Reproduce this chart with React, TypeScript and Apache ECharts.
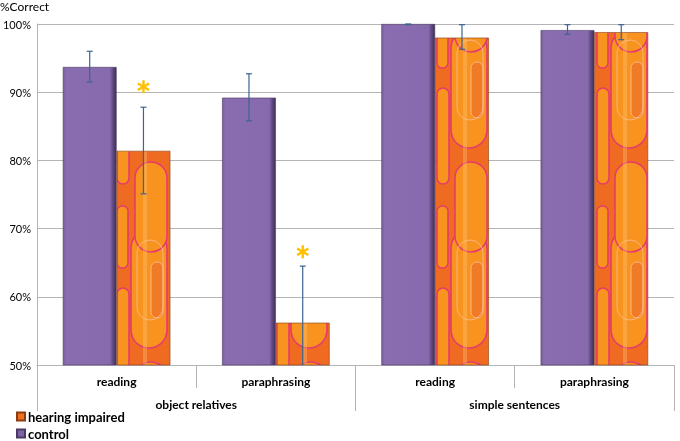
import React, { useEffect, useRef } from "react";
import * as echarts from "echarts";

const subCategories = ["reading", "paraphrasing", "reading", "paraphrasing"];
const groupCategories = ["object relatives", "simple sentences"];
const seriesNames = ["control", "hearing impaired"];
const controlValues = [93.7, 89.2, 100, 99.1];
const controlLow = [91.5, 85.8, 99.9, 98.5];
const controlHigh = [96.0, 92.7, 100, 99.9];
const impairedValues = [81.4, 56.2, 98.0, 98.8];
const impairedLow = [75.1, 47.9, 96.3, 97.7];
const impairedHigh = [87.8, 64.5, 99.9, 99.9];
const impairedAsterisk: (number | null)[] = [90.8, 66.6, null, null];
const yTicks = { min: 50, max: 100, interval: 10 };

const GAP = 0.325;

function roundRect(g: CanvasRenderingContext2D, x: number, y: number, w: number, h: number, r: number) {
  g.beginPath();
  g.moveTo(x + r, y);
  g.lineTo(x + w - r, y);
  g.arcTo(x + w, y, x + w, y + r, r);
  g.lineTo(x + w, y + h - r);
  g.arcTo(x + w, y + h, x + w - r, y + h, r);
  g.lineTo(x + r, y + h);
  g.arcTo(x, y + h, x, y + h - r, r);
  g.lineTo(x, y + r);
  g.arcTo(x, y, x + r, y, r);
  g.closePath();
}

// tile is 160 wide (one category band); bars start at offset 115 within it
function makePattern(): HTMLCanvasElement {
  const W = 160;
  const H = 200;
  const X0 = 115;
  const c = document.createElement("canvas");
  c.width = W;
  c.height = H;
  const g = c.getContext("2d") as CanvasRenderingContext2D;
  g.fillStyle = "#F06B22";
  g.fillRect(0, 0, W, H);
  const offs = [-1, 0, 1];
  const draw = (
    s: [number, number, number, number, number],
    fill: string,
    stroke: string,
    lw: number
  ) => {
    const [u, y, w, h, r] = s;
    offs.forEach((ox) =>
      offs.forEach((oy) => {
        roundRect(g, X0 + u + ox * W, y + oy * H, w, h, r);
        if (fill) {
          g.fillStyle = fill;
          g.fill();
        }
        g.strokeStyle = stroke;
        g.lineWidth = lw;
        g.stroke();
      })
    );
  };
  const light = "#F7931E";
  const pink = "#E63A6E";
  draw([2, 6, 11, 62, 5], light, pink, 1.5);
  draw([16, 30, 36, 118, 18], light, pink, 1.6);
  draw([2, 88, 12, 96, 6], light, pink, 1.5);
  draw([20, 162, 32, 90, 16], light, pink, 1.5);
  draw([36, 62, 12, 56, 6], "#F07A25", "#F9B58A", 1);
  draw([22, 40, 26, 80, 13], "", "rgba(250,190,150,0.8)", 1);
  g.fillStyle = "rgba(255,200,120,0.35)";
  g.fillRect(X0 + 28, 0, 4, H);
  g.fillRect(X0 + 28 - W, 0, 4, H);
  return c;
}

function errorSeries(low: number[], high: number[], ast: (number | null)[], side: number, name: string) {
  return {
    type: "custom",
    name,
    z: 5,
    silent: true,
    data: low.map((l, i) => [i, l, high[i], ast[i] == null ? -1 : ast[i]]),
    encode: { x: 0, y: [1, 2] },
    renderItem: (params: any, api: any) => {
      const i = api.value(0);
      const lo = api.value(1);
      const hi = api.value(2);
      const as = api.value(3);
      const band = api.size([1, 0])[0];
      const bw = (band * (1 - GAP)) / 2;
      const cx = api.coord([i, 75])[0] + (side * bw) / 2;
      const yLo = api.coord([i, Math.max(lo, yTicks.min)])[1];
      const yHi = api.coord([i, Math.min(hi, yTicks.max)])[1];
      const col = "#3C6490";
      const st = { stroke: col, lineWidth: 1.2 };
      const children: any[] = [
        { type: "line", shape: { x1: cx, y1: yLo, x2: cx, y2: yHi }, style: st },
      ];
      if (lo >= yTicks.min)
        children.push({ type: "line", shape: { x1: cx - 3, y1: yLo, x2: cx + 3, y2: yLo }, style: st });
      if (hi <= yTicks.max)
        children.push({ type: "line", shape: { x1: cx - 3, y1: yHi, x2: cx + 3, y2: yHi }, style: st });
      if (as > 0) {
        const ay = api.coord([i, as])[1];
        const ax = cx;
        const r = 6.5;
        [90, 30, 150].forEach((deg) => {
          const a = (deg * Math.PI) / 180;
          children.push({
            type: "line",
            shape: {
              x1: ax - r * Math.cos(a),
              y1: ay - r * Math.sin(a),
              x2: ax + r * Math.cos(a),
              y2: ay + r * Math.sin(a),
            },
            style: { stroke: "#FFC000", lineWidth: 2.4 },
          });
        });
      }
      return { type: "group", children };
    },
  };
}

export default function App() {
  const ref = useRef<HTMLDivElement>(null);
  useEffect(() => {
    if (!ref.current) return;
    const chart = echarts.init(ref.current, undefined, { renderer: "svg" });
    const pattern = makePattern();
    const font = "Lato, 'Open Sans', sans-serif";
    const legendBase = {
      orient: "vertical",
      left: 16,
      itemWidth: 8,
      itemHeight: 8,
      icon: "rect",
      padding: 0,
      textStyle: { fontFamily: font, fontSize: 13, fontWeight: "bold", color: "#000", padding: [0, 0, 0, -2] },
    };
    chart.setOption({
      animation: false,
      textStyle: { fontFamily: font },
      grid: { left: 35, right: 6, top: 24, bottom: 76, containLabel: false },
      graphic: [
        {
          type: "text",
          left: 0,
          top: 0,
          style: { text: "%Correct", font: `12px ${font}`, fill: "#000" },
        },
      ],
      legend: [
        {
          ...legendBase,
          top: 410,
          data: [{ name: seriesNames[1], itemStyle: { color: "#F07022" } }],
        },
        {
          ...legendBase,
          top: 427,
          data: [{ name: seriesNames[0], itemStyle: { color: "#7F63A8" } }],
        },
      ],
      xAxis: [
        {
          type: "category",
          data: subCategories,
          position: "bottom",
          axisLine: { show: true, lineStyle: { color: "#B4B4B4" } },
          axisTick: { show: true, interval: 0, length: 23, lineStyle: { color: "#B4B4B4" } },
          axisLabel: { interval: 0, margin: 10, fontSize: 12, fontWeight: "bold", color: "#000" },
        },
        {
          type: "category",
          data: groupCategories,
          position: "bottom",
          axisLine: { show: false },
          axisTick: { show: true, interval: 0, length: 46, lineStyle: { color: "#B4B4B4" } },
          axisLabel: { interval: 0, margin: 33, fontSize: 12, fontWeight: "bold", color: "#000" },
        },
      ],
      yAxis: {
        type: "value",
        min: yTicks.min,
        max: yTicks.max,
        interval: yTicks.interval,
        axisLine: { show: true, lineStyle: { color: "#B4B4B4" } },
        axisTick: { show: false },
        splitLine: { lineStyle: { color: "#B4B4B4" } },
        axisLabel: { formatter: "{value}%", fontSize: 11, color: "#000", margin: 6 },
      },
      series: [
        {
          type: "bar",
          name: seriesNames[0],
          data: controlValues,
          barGap: "0%",
          barCategoryGap: `${GAP * 100}%`,
          clip: true,
          itemStyle: {
            color: new echarts.graphic.LinearGradient(0, 0, 1, 0, [
              { offset: 0, color: "#7A5EA0" },
              { offset: 0.06, color: "#8A6DB0" },
              { offset: 0.88, color: "#866AAD" },
              { offset: 0.94, color: "#5E4880" },
              { offset: 1, color: "#3E3054" },
            ]),
            borderColor: "#4A3A62",
            borderWidth: 0.6,
          },
        },
        {
          type: "bar",
          name: seriesNames[1],
          data: impairedValues,
          barGap: "0%",
          barCategoryGap: `${GAP * 100}%`,
          clip: true,
          itemStyle: {
            color: { image: pattern, repeat: "repeat" },
            borderColor: "#8A3C12",
            borderWidth: 0.6,
          },
        },
        errorSeries(controlLow, controlHigh, [null, null, null, null], -1, "err-control"),
        errorSeries(impairedLow, impairedHigh, impairedAsterisk, 1, "err-hi"),
      ],
    });
    return () => chart.dispose();
  }, []);
  return (
    <div
      ref={ref}
      style={{ position: "fixed", left: 0, top: 0, width: 680, height: 441 }}
    />
  );
}
